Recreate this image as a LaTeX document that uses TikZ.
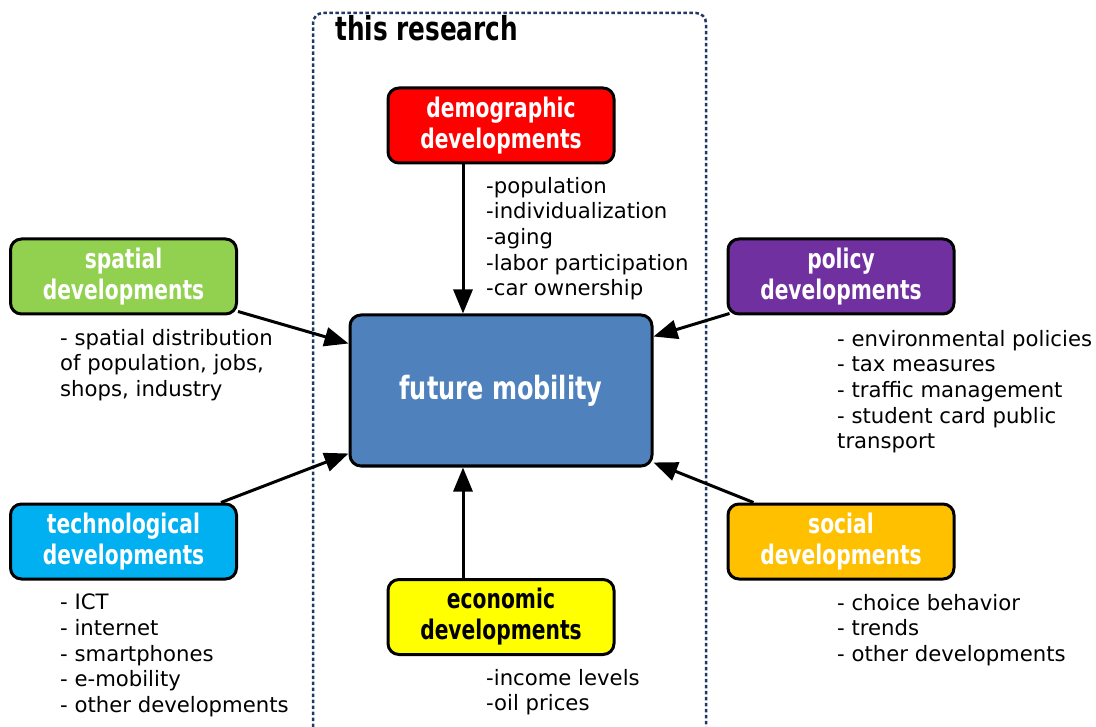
\documentclass[tikz,border=0pt]{standalone}
\usepackage{fontspec}
\setmainfont{DejaVu Sans}
\newfontfamily\hdfont{DejaVu Sans}[FakeStretch=0.75]
\usetikzlibrary{arrows.meta}
\definecolor{navy}{HTML}{1F3864}
\definecolor{cred}{HTML}{FF0000}
\definecolor{cgreen}{HTML}{92D050}
\definecolor{cpurple}{HTML}{7030A0}
\definecolor{ccyan}{HTML}{00B0F0}
\definecolor{corange}{HTML}{FFC000}
\definecolor{cyellow}{HTML}{FFFF00}
\definecolor{cblue}{HTML}{4F81BD}
\tikzset{
  devbox/.style={draw=black, line width=3pt, rounded corners=11pt,
    minimum width=226pt, minimum height=75pt, inner sep=0pt, align=center,
    text=white, font=\hdfont\bfseries\fontsize{27}{31}\selectfont},
  listtext/.style={anchor=north west, inner sep=0pt, align=left,
    font=\fontsize{21.2}{25.6}\selectfont},
  arr/.style={line width=3pt, -{Triangle[length=24pt,width=19pt]}}
}
\begin{document}
\begin{tikzpicture}[x=1pt,y=-1pt]
\useasboundingbox (0,0) rectangle (1096,727);
\draw[navy, line width=2.5pt, dash pattern=on 3.5pt off 2.5pt, rounded corners=10pt]
  (313,745) -- (313,13) -- (706,13) -- (706,745);
\node[anchor=base west, inner sep=0pt, font=\hdfont\bfseries\fontsize{33}{40}\selectfont] (title) at (335,41) {this research};

\node[devbox, fill=cred] (demo) at (501,125.5) {demographic\\developments};
\node[devbox, fill=cgreen] (spatial) at (123.5,276.5) {spatial\\developments};
\node[devbox, fill=cpurple] (policy) at (841,276.5) {policy\\developments};
\node[devbox, fill=ccyan] (tech) at (123.5,541.5) {technological\\developments};
\node[devbox, fill=corange] (social) at (841,541.5) {social\\developments};
\node[devbox, fill=cyellow, text=black] (econ) at (501,617) {economic\\developments};
\node[draw=black, line width=3pt, rounded corners=11pt, fill=cblue,
  minimum width=302pt, minimum height=151pt, inner sep=0pt, text=white,
  font=\hdfont\bfseries\fontsize{32}{36}\selectfont] (center) at (501,390.5) {future mobility};

\draw[arr] ([xshift=-38pt]demo.south) -- ([xshift=-38pt]center.north);
\draw[arr] ([xshift=-38pt]econ.north) -- ([xshift=-38pt]center.south);
\draw[arr] ([yshift=4pt]spatial.south east) -- ([yshift=-30pt]center.north west);
\draw[arr] ([xshift=3pt,yshift=2pt]policy.south west) -- ([yshift=-23pt]center.north east);
\draw[arr] ([xshift=-17pt]tech.north east) -- ([yshift=14pt]center.south west);
\draw[arr] ([xshift=27pt]social.north west) -- ([yshift=5pt]center.south east);

\node[listtext] (demolist) at (486,177) {-population\\-individualization\\-aging\\-labor participation\\-car ownership};
\node[listtext] (spatiallist) at (60,329) {- spatial distribution\\of population, jobs,\\shops, industry};
\node[listtext] (policylist) at (837,330) {- environmental policies\\- tax measures\\- traffic management\\- student card public\\transport};
\node[listtext] (techlist) at (60,594) {- ICT\\- internet\\- smartphones\\- e-mobility\\- other developments};
\node[listtext] (sociallist) at (837,594) {- choice behavior\\- trends\\- other developments};
\node[listtext] (econlist) at (486,669) {-income levels\\-oil prices};
\end{tikzpicture}
\end{document}
